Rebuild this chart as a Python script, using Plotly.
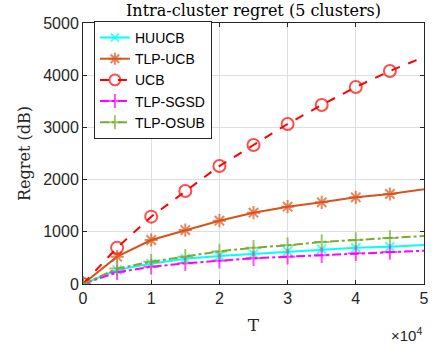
import plotly.graph_objects as go

T = [0, 5000, 10000, 15000, 20000, 25000, 30000, 35000, 40000, 45000, 50000]
huucb = [0, 268, 390, 485, 536, 575, 626, 665, 695, 715, 747]
tlp_ucb = [0, 523, 843, 1034, 1213, 1366, 1481, 1565, 1661, 1724, 1814]
ucb = [0, 695, 1290, 1782, 2260, 2663, 3065, 3429, 3774, 4080, 4349]
tlp_sgsd = [0, 225, 330, 396, 446, 492, 523, 550, 588, 613, 638]
tlp_osub = [0, 295, 427, 523, 625, 695, 741, 805, 843, 881, 920]

x_tickvals = [0, 10000, 20000, 30000, 40000, 50000]
x_ticktext = ["0", "1", "2", "3", "4", "5"]
y_tickvals = [0, 1000, 2000, 3000, 4000, 5000]

series = [
    ("HUUCB", huucb, "#00FFFF", "solid", "x-thin-open", 9),
    ("TLP-UCB", tlp_ucb, "#D95319", "solid", "asterisk-open", 11),
    ("UCB", ucb, "#FF0000", "dash", "circle-open", 12),
    ("TLP-SGSD", tlp_sgsd, "#FF00FF", "dashdot", "cross-thin-open", 11),
    ("TLP-OSUB", tlp_osub, "#77AC30", "dashdot", "cross-thin-open", 11),
]

fig = go.Figure()
for name, ys, color, dash, sym, size in series:
    sizes = [size] * (len(T) - 1) + [0]
    fig.add_trace(go.Scatter(
        x=T, y=ys, name=name, mode="lines+markers",
        line=dict(color=color, width=2, dash=dash),
        marker=dict(symbol=sym, size=sizes, color=color,
                    line=dict(color=color, width=2)),
    ))

tick_font = dict(family="Liberation Sans, Arial", size=16, color="#262626")
serif = "DejaVu Serif, Liberation Serif"

axis_common = dict(
    showline=True, linecolor="#262626", linewidth=1, mirror="ticks",
    ticks="inside", ticklen=4, tickcolor="#262626",
    showgrid=True, gridcolor="#DFDFDF", gridwidth=1, zeroline=False,
    tickfont=tick_font,
)

fig.update_layout(
    width=436, height=345,
    margin=dict(l=83, r=7, t=23, b=61),
    paper_bgcolor="white", plot_bgcolor="white",
    title=dict(text="Intra-cluster regret (5 clusters)", x=0.5, xref="paper",
               y=1 - 10 / 345, yanchor="middle",
               font=dict(family=serif, size=16, color="black")),
    xaxis=dict(range=[0, 50000], tickvals=x_tickvals, ticktext=x_ticktext,
               title=dict(text="T", font=dict(family=serif, size=17, color="#262626"),
                          standoff=12),
               **axis_common),
    yaxis=dict(range=[0, 5000], tickvals=y_tickvals,
               title=dict(text="Regret (dB)", font=dict(family=serif, size=16, color="#262626"),
                          standoff=8),
               **axis_common),
    legend=dict(x=0.032, y=1.008, xanchor="left", yanchor="top",
                bgcolor="white", bordercolor="#262626", borderwidth=1,
                font=dict(family="Liberation Sans, Arial", size=14, color="black"),
                tracegroupgap=0, itemwidth=30),
    annotations=[dict(text="×10<sup>4</sup>", xref="paper", yref="paper",
                      x=1.0, y=-0.15, xanchor="right", yanchor="top", showarrow=False,
                      font=dict(family="Liberation Sans, Arial", size=15, color="#262626"))],
)

fig.write_html("out.html")
